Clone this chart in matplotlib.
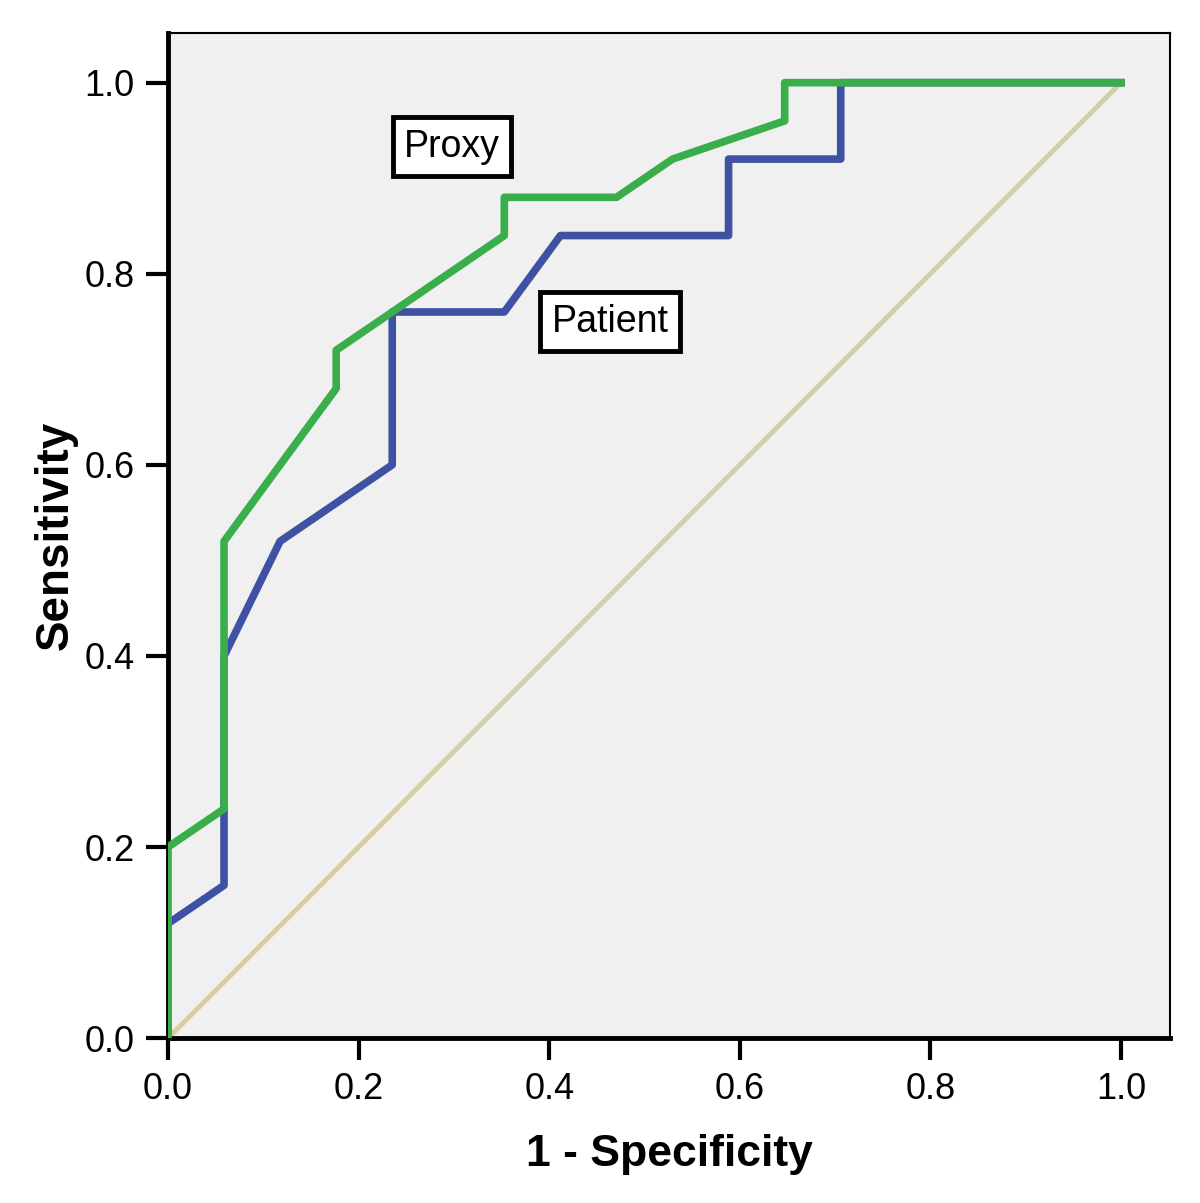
import matplotlib
matplotlib.use("Agg")
import matplotlib.pyplot as plt
from matplotlib import font_manager

# ROC 곡선 좌표 (1 - 특이도, 민감도)
proxy_fpr = [0.0, 0.0, 0.0588, 0.0588, 0.1765, 0.1765, 0.2353, 0.3529, 0.3529,
             0.4706, 0.5294, 0.6471, 0.6471, 1.0]
proxy_tpr = [0.0, 0.20, 0.24, 0.52, 0.68, 0.72, 0.76, 0.84, 0.88,
             0.88, 0.92, 0.96, 1.0, 1.0]

patient_fpr = [0.0, 0.0, 0.0588, 0.0588, 0.1176, 0.2353, 0.2353, 0.3529,
               0.4118, 0.5882, 0.5882, 0.7059, 0.7059, 1.0]
patient_tpr = [0.0, 0.12, 0.16, 0.40, 0.52, 0.60, 0.76, 0.76,
               0.84, 0.84, 0.92, 0.92, 1.0, 1.0]

ref_line = [0.0, 1.0]
ticks = [0.0, 0.2, 0.4, 0.6, 0.8, 1.0]

installed = {f.name for f in font_manager.fontManager.ttflist}
font = "Liberation Sans Narrow" if "Liberation Sans Narrow" in installed else "Liberation Sans"
plt.rcParams["font.family"] = [font, "DejaVu Sans"]

fig = plt.figure(figsize=(12, 12.03), dpi=100)
ax = fig.add_axes([0.14, 0.137, 0.835, 0.8356])
ax.set_facecolor("#f0f0f0")

ax.plot(ref_line, ref_line, color="#d6cfa6", lw=3.5, zorder=1)
ax.plot(patient_fpr, patient_tpr, color="#3f51a3", lw=5.5, zorder=2)
ax.plot(proxy_fpr, proxy_tpr, color="#3aae4a", lw=5.5, zorder=3)

box = dict(boxstyle="square,pad=0.3", fc="white", ec="black", lw=3.5)
ax.text(0.298, 0.933, "Proxy", fontsize=27, ha="center", va="center", bbox=box, zorder=4)
ax.text(0.464, 0.750, "Patient", fontsize=27, ha="center", va="center", bbox=box, zorder=4)

ax.set_xlim(0, 1.0514)
ax.set_ylim(0, 1.052)
ax.set_xticks(ticks)
ax.set_yticks(ticks)
ax.set_xticklabels([f"{t:.1f}" for t in ticks])
ax.set_yticklabels([f"{t:.1f}" for t in ticks])
ax.tick_params(direction="out", length=16, width=3, labelsize=26, pad=8, colors="black")

for side in ["left", "bottom"]:
    ax.spines[side].set_linewidth(3.5)
for side in ["top", "right"]:
    ax.spines[side].set_linewidth(1.5)

ax.set_xlabel("1 - Specificity", fontsize=32, fontweight="bold", labelpad=20)
ax.set_ylabel("Sensitivity", fontsize=33, fontweight="bold", labelpad=5)

fig.savefig("out.png", dpi=100)
